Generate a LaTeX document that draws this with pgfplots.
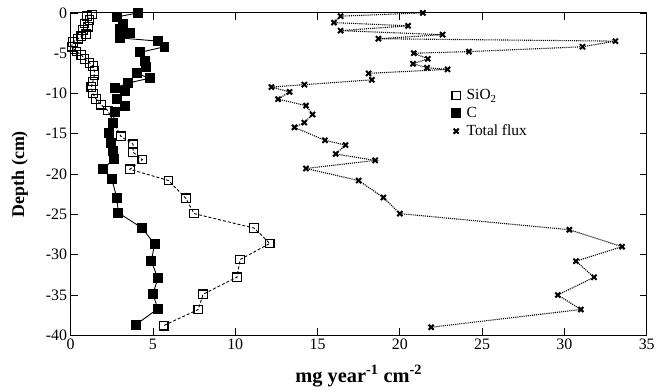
\documentclass[border=0pt]{standalone}
\usepackage{pgfplots}
\pgfplotsset{compat=1.18}
\usepackage{fontspec}
\setmainfont{Liberation Serif}

% Depth profiles: x = flux (mg year^-1 cm^-2), y = depth (cm)
\begin{document}
\begin{tikzpicture}
\begin{axis}[
  scale only axis,
  width=579pt, height=324pt,
  xmin=0, xmax=35, ymin=-40, ymax=0,
  xtick={0,5,...,35}, ytick={-40,-35,...,0},
  /pgf/number format/assume math mode=true,
  tick label style={font=\fontsize{16}{18}\selectfont},
  tick style={black, line width=0.8pt},
  major tick length=7pt,
  axis line style={line width=0.9pt},
  xlabel={\bfseries mg year\textsuperscript{-1} cm\textsuperscript{-2}},
  ylabel={\bfseries Depth (cm)},
  x label style={font=\fontsize{20.5}{22}\selectfont, at={(rel axis cs:0.5,0)}, anchor=center, yshift=-41pt},
  y label style={font=\fontsize{18}{20}\selectfont, at={(rel axis cs:0,0.5)}, anchor=center, yshift=51pt},
  legend style={draw=none, fill=none, at={(0.652,0.775)}, anchor=north west,
    font=\fontsize{15.5}{17}\selectfont, row sep=2pt},
  legend cell align=left,
  legend image code/.code={\path (0cm,0cm) (0.5cm,0cm);
    \draw[#1, only marks] plot coordinates {(0.22cm,0cm)};},
  clip=false,
]
% white margin around the frame
\path (rel axis cs:-0.1226,-0.1636) (rel axis cs:1.0138,1.0401);
% SiO2
\addplot[black, densely dashed, line width=0.9pt,
  mark=square, mark size=4.3pt, mark options={solid, fill=white, line width=1.2pt}]
coordinates {
(1.3,-0.2)(1.0,-0.4)(1.15,-0.9)(0.85,-1.3)(1.05,-1.7)(0.75,-2.1)(0.95,-2.6)
(0.65,-2.9)(0.45,-3.2)(0.15,-3.6)(0.05,-4.2)(0.35,-4.8)(0.65,-5.2)(0.85,-5.7)
(1.15,-6.2)(1.35,-6.6)(1.45,-7.2)(1.45,-7.7)(1.35,-8.5)(1.25,-9.2)(1.35,-10.0)
(1.55,-10.7)(1.85,-11.4)(2.25,-12.1)(3.05,-15.3)(3.8,-16.3)(3.8,-17.3)
(4.35,-18.2)(3.6,-19.4)(5.95,-20.8)(7.0,-23.0)(7.5,-24.9)(11.15,-26.7)
(12.1,-28.6)(10.3,-30.6)(10.1,-32.8)(8.05,-34.9)(7.75,-36.8)(5.65,-38.8)
};
\addlegendentry{SiO\textsubscript{2}}
% C
\addplot[black, solid, line width=0.9pt,
  mark=square*, mark size=4.5pt, mark options={fill=black}]
coordinates {
(4.1,0)(2.8,-0.5)(3.2,-1.4)(3.0,-2.0)(3.6,-2.5)(3.0,-3.1)(5.3,-3.5)(5.7,-4.2)
(4.2,-4.9)(4.5,-6.0)(4.6,-6.7)(4.0,-7.5)(4.8,-8.1)(3.5,-8.7)(2.7,-9.3)
(3.3,-9.7)(2.8,-10.7)(3.3,-11.5)(2.7,-12.3)(2.55,-13.6)(2.35,-14.9)
(2.45,-16.1)(2.55,-17.1)(2.65,-18.1)(1.95,-19.4)(2.5,-20.6)(2.8,-22.9)
(2.9,-24.8)(4.35,-26.7)(5.1,-28.7)(4.9,-30.8)(5.3,-32.9)(5.0,-34.9)
(5.3,-36.7)(3.95,-38.7)
};
\addlegendentry{C}
% Total flux
\addplot[black, densely dotted, line width=1.1pt,
  mark=x, mark size=3.6pt, mark options={solid, line width=2pt}]
coordinates {
(21.4,0)(16.4,-0.4)(16.0,-1.2)(20.5,-1.6)(16.4,-2.2)(22.6,-2.7)(18.7,-3.2)
(33.1,-3.5)(31.1,-4.2)(24.2,-4.8)(20.85,-5.0)(21.7,-5.7)(20.8,-6.3)
(21.65,-6.8)(22.9,-7.0)(18.1,-7.5)(18.3,-8.3)(14.2,-8.9)(12.2,-9.2)
(13.3,-9.8)(12.6,-10.7)(14.3,-11.5)(14.7,-12.6)(14.2,-13.6)(13.6,-14.2)
(15.45,-15.8)(16.7,-16.4)(16.1,-17.5)(18.5,-18.3)(14.3,-19.3)(17.5,-20.8)
(19.0,-22.9)(20.0,-24.9)(30.3,-26.9)(33.5,-29.0)(30.7,-30.8)(31.8,-32.8)
(29.6,-35.0)(31.0,-36.8)(21.9,-39.0)
};
\addlegendentry{Total flux}
\end{axis}
\end{tikzpicture}
\end{document}
